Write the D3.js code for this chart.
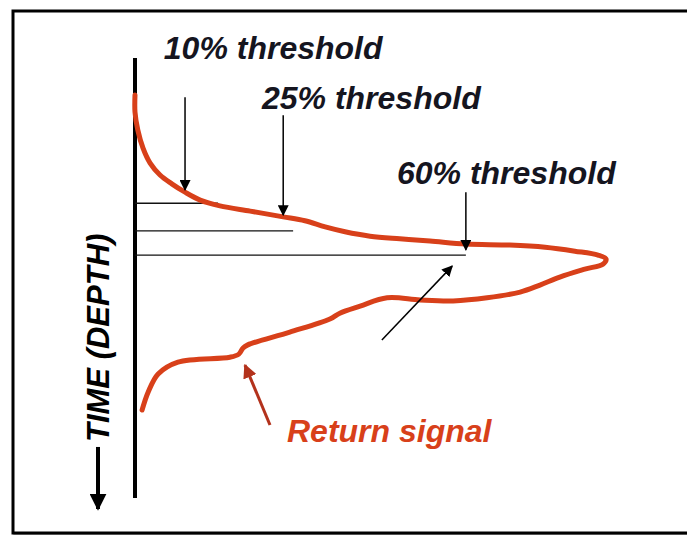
<!DOCTYPE html>
<html><head><meta charset="utf-8">
<script src="https://cdn.jsdelivr.net/npm/d3@7"></script>
<style>html,body{margin:0;padding:0;background:#fff;}svg{display:block;}</style>
</head><body>
<script>
// Return signal waveform: amplitude (% of peak) vs time (depth units, 0 at top)
const amplitude = [0,0,0.6,1.7,3.2,5.3,7.8,10.6,13.8,18.0,24.4,31.4,36.0,40.3,44.5,49.8,56.1,62.5,70.1,79.4,86.9,93.2,98.1,99.8,99.2,95.3,90.0,85.8,81.6,74.6,67.4,60.4,53.4,47.7,43.4,41.3,32.8,23.9,22.9,22.0,20.1,9.1,4.9,2.8,1.5];
const time      = [8.4,12.3,16.4,20.5,23.9,26.6,28.6,30.5,32.3,33.6,34.8,36.1,37.0,38.4,39.5,40.5,41.1,41.6,42.3,42.5,43.0,43.9,44.8,45.7,46.8,48.0,49.8,51.6,53.2,54.5,55.2,55.0,54.5,56.4,58.0,59.3,62.3,65.2,65.9,67.3,68.0,69.1,71.8,75.9,80.0];

// Threshold annotations
const thresholdLabels = ["10% threshold","25% threshold","60% threshold"];
const thresholdTime   = [33.0, 39.3, 44.8];   // horizontal line level
const thresholdLineEnd= [17.6, 33.5, 70.1];   // line extent (amplitude)
const arrowAmp        = [10.6, 31.4, 70.1];   // arrow x
const arrowTop        = [8.9, 13.0, 30.5];
const arrowTip        = [30.0, 35.7, 43.6];
const labelAmp        = [6.1, 26.9, 55.5];
const labelTime       = [0.2, 11.6, 28.7];

const W = 687, H = 536;
const x = d3.scaleLinear().domain([0,100]).range([135,607]);
const y = d3.scaleLinear().domain([0,100]).range([58,498]);

const svg = d3.select("body").append("svg").attr("width",W).attr("height",H);
const defs = svg.append("defs");
function marker(id,color,size){
  defs.append("marker").attr("id",id).attr("viewBox","0 0 10 10").attr("refX",9).attr("refY",5)
    .attr("markerWidth",size).attr("markerHeight",size).attr("markerUnits","userSpaceOnUse").attr("orient","auto")
    .append("path").attr("d","M0,0 L10,5 L0,10 Z").attr("fill",color);
}
marker("ah","#000",11);
marker("ahr","#b3321c",14);
marker("ahb","#000",17);

// frame
svg.append("rect").attr("x",13).attr("y",11).attr("width",W+20).attr("height",522)
  .attr("fill","#fff").attr("stroke","#888").attr("stroke-width",1.5).attr("transform","translate(1,1)");
svg.append("rect").attr("x",13).attr("y",11).attr("width",W+20).attr("height",522)
  .attr("fill","#fff").attr("stroke","#000").attr("stroke-width",3);

// time axis
svg.append("line").attr("x1",x(0)).attr("x2",x(0)).attr("y1",y(0)).attr("y2",y(100))
  .attr("stroke","#000").attr("stroke-width",4);

// threshold lines
svg.selectAll(".thr").data(thresholdTime).join("line")
  .attr("x1",x(0)).attr("x2",(d,i)=>x(thresholdLineEnd[i])).attr("y1",d=>y(d)).attr("y2",d=>y(d))
  .attr("stroke","#111").attr("stroke-width",1.4);

// waveform
const pts = amplitude.map((a,i)=>[a,time[i]]);
svg.append("path").datum(pts)
  .attr("d",d3.line().x(d=>x(d[0])).y(d=>y(d[1])).curve(d3.curveCatmullRom.alpha(0.5)))
  .attr("fill","none").attr("stroke","#d8401a").attr("stroke-width",5)
  .attr("stroke-linejoin","round").attr("stroke-linecap","round");

// threshold arrows
svg.selectAll(".tar").data(arrowAmp).join("line")
  .attr("x1",d=>x(d)).attr("x2",d=>x(d)).attr("y1",(d,i)=>y(arrowTop[i])).attr("y2",(d,i)=>y(arrowTip[i]))
  .attr("stroke","#000").attr("stroke-width",1.5).attr("marker-end","url(#ah)");

// labels
const fontFam = "'Liberation Sans', Arial, sans-serif";
svg.selectAll(".lab").data(thresholdLabels).join("text")
  .attr("x",(d,i)=>x(labelAmp[i])).attr("y",(d,i)=>y(labelTime[i]))
  .attr("font-family",fontFam).attr("font-size",32).attr("font-weight","bold").attr("font-style","italic")
  .attr("fill","#15151f").text(d=>d);

// pointer to lower limb
svg.append("line").attr("x1",x(52.3)).attr("y1",y(64.1)).attr("x2",x(67.2)).attr("y2",y(47.3))
  .attr("stroke","#000").attr("stroke-width",1.5).attr("marker-end","url(#ah)");

// return signal annotation
svg.append("line").attr("x1",x(28.6)).attr("y1",y(83.4)).attr("x2",x(23.3)).attr("y2",y(69.8))
  .attr("stroke","#b3321c").attr("stroke-width",3).attr("marker-end","url(#ahr)");
svg.append("text").attr("x",x(32.2)).attr("y",y(87.3))
  .attr("font-family",fontFam).attr("font-size",32).attr("font-weight","bold").attr("font-style","italic")
  .attr("fill","#d8401a").text("Return signal");

// TIME (DEPTH) label with arrow
svg.append("text").attr("transform",`translate(109,${y(63.6)}) rotate(-90)`).attr("text-anchor","middle")
  .attr("font-family",fontFam).attr("font-size",31).attr("font-weight","bold").attr("font-style","italic")
  .attr("fill","#000").text("TIME (DEPTH)");
svg.append("line").attr("x1",98).attr("x2",98).attr("y1",y(88.4)).attr("y2",y(102.5))
  .attr("stroke","#000").attr("stroke-width",4).attr("marker-end","url(#ahb)");
</script>
</body></html>
